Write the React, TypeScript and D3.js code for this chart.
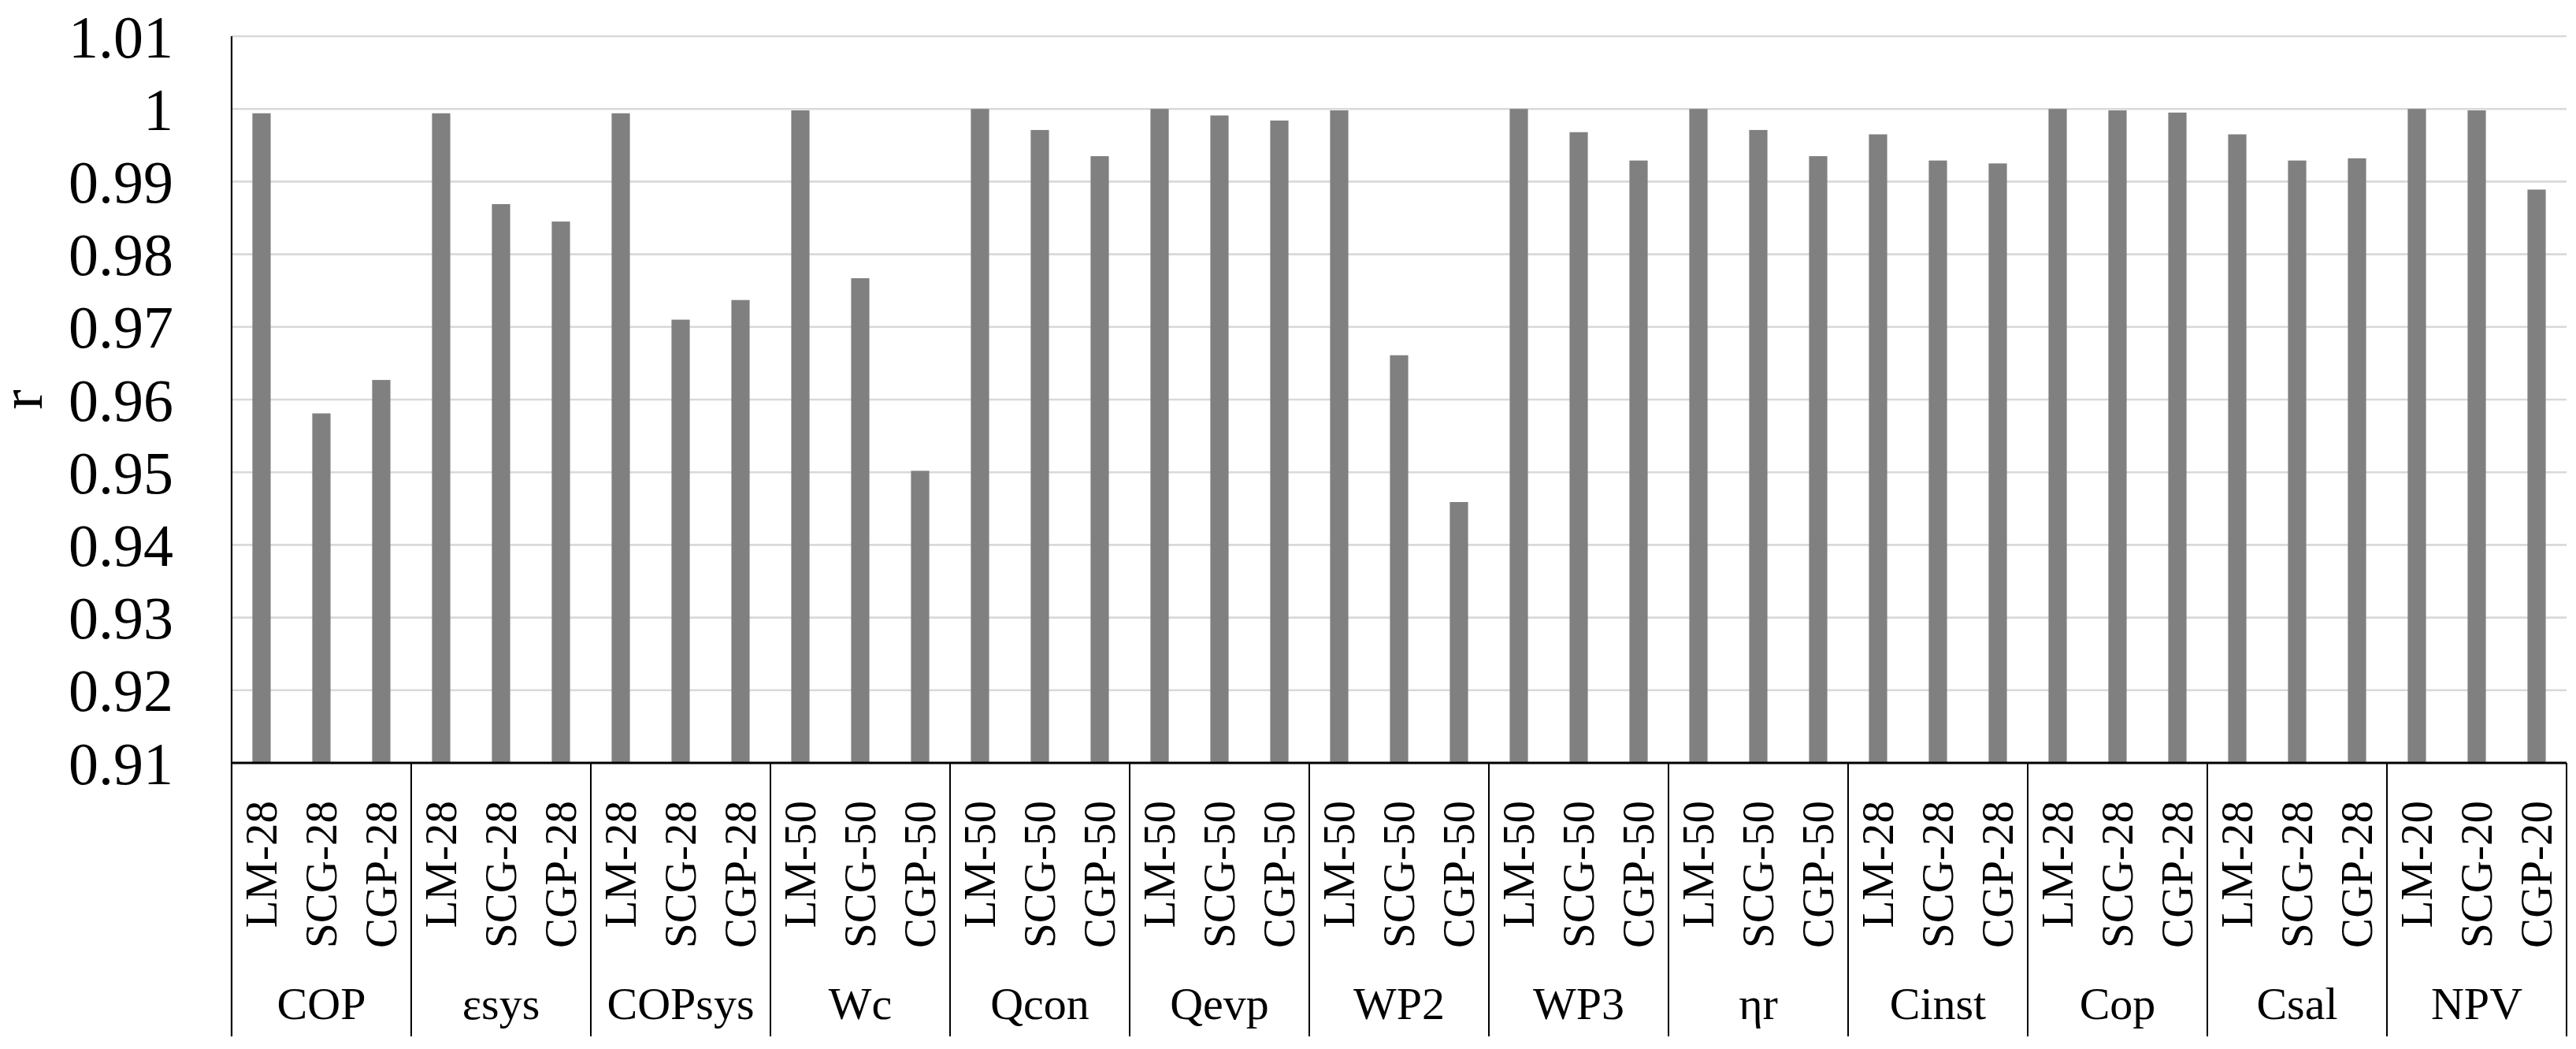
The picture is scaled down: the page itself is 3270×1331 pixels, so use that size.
import React from "react";
import * as d3 from "d3";

const categories = ["COP", "εsys", "COPsys", "Wc", "Qcon", "Qevp", "WP2", "WP3", "ηr", "Cinst", "Cop", "Csal", "NPV"];
const neurons = ["28", "28", "28", "50", "50", "50", "50", "50", "50", "28", "28", "28", "20"];
const methods = ["LM", "SCG", "CGP"];
const lmValues = [0.9994, 0.9994, 0.9994, 0.9998, 1.0, 1.0, 0.9998, 1.0, 1.0, 0.9965, 1.0, 0.9965, 1.0];
const scgValues = [0.9581, 0.9869, 0.971, 0.9767, 0.9971, 0.9991, 0.9661, 0.9968, 0.9971, 0.9929, 0.9998, 0.9929, 0.9998];
const cgpValues = [0.9627, 0.9845, 0.9737, 0.9502, 0.9935, 0.9984, 0.9459, 0.9929, 0.9935, 0.9925, 0.9995, 0.9932, 0.9889];
const yTicks = [0.91, 0.92, 0.93, 0.94, 0.95, 0.96, 0.97, 0.98, 0.99, 1.0, 1.01];
const yLabels = ["0.91", "0.92", "0.93", "0.94", "0.95", "0.96", "0.97", "0.98", "0.99", "1", "1.01"];
const yTitle = "r";

const W = 3270;
const H = 1331;
const left = 294;
const right = 3258;
const top = 46;
const bottom = 968;
const sepBottom = 1315;
const FONT = "'Liberation Serif', 'Times New Roman', serif";

export default function App() {
  const seriesByMethod = [lmValues, scgValues, cgpValues];
  const bars = categories.flatMap((c, ci) =>
    methods.map((m, mi) => ({
      key: `${ci}-${mi}`,
      label: `${m}-${neurons[ci]}`,
      value: seriesByMethod[mi][ci],
    }))
  );
  const x = d3
    .scaleBand<string>()
    .domain(bars.map((b) => b.key))
    .range([left, right])
    .paddingInner(0.695)
    .paddingOuter(0.3475);
  const y = d3.scaleLinear().domain([0.91, 1.01]).range([bottom, top]);
  const catX = d3.scaleBand<string>().domain(categories).range([left, right]);

  return (
    <svg
      width={W}
      height={H}
      style={{ position: "absolute", left: 0, top: 0, background: "#fff" }}
      fontFamily={FONT}
    >
      <rect x={0} y={0} width={W} height={H} fill="#fff" />
      {yTicks.map((t, i) => (
        <g key={t}>
          {i > 0 && (
            <line x1={left} x2={right} y1={y(t)} y2={y(t)} stroke="#d9d9d9" strokeWidth={2.6} />
          )}
          <text x={220} y={y(t)} dy="0.35em" textAnchor="end" fontSize={76} fill="#000">
            {yLabels[i]}
          </text>
        </g>
      ))}
      <text
        transform={`translate(34,${(top + bottom) / 2}) rotate(-90)`}
        textAnchor="middle"
        dy="0.25em"
        fontSize={76}
        fill="#000"
      >
        {yTitle}
      </text>
      {bars.map((b) => (
        <rect
          key={b.key}
          x={x(b.key)}
          y={y(b.value)}
          width={x.bandwidth()}
          height={bottom - y(b.value)}
          fill="#808080"
        />
      ))}
      <line x1={left} x2={left} y1={top} y2={sepBottom} stroke="#000" strokeWidth={2.2} />
      <line x1={left} x2={right} y1={bottom} y2={bottom} stroke="#000" strokeWidth={3.2} />
      {categories.map((c) => (
        <line
          key={c}
          x1={(catX(c) as number) + catX.bandwidth()}
          x2={(catX(c) as number) + catX.bandwidth()}
          y1={bottom}
          y2={sepBottom}
          stroke="#000"
          strokeWidth={2}
        />
      ))}
      {bars.map((b) => {
        const cx = (x(b.key) as number) + x.bandwidth() / 2;
        return (
          <text
            key={b.key}
            transform={`translate(${cx},1016) rotate(-90)`}
            textAnchor="end"
            dy="0.33em"
            fontSize={57}
            fill="#000"
          >
            {b.label}
          </text>
        );
      })}
      {categories.map((c) => (
        <text
          key={c}
          x={(catX(c) as number) + catX.bandwidth() / 2}
          y={1293}
          textAnchor="middle"
          fontSize={58}
          fill="#000"
        >
          {c}
        </text>
      ))}
    </svg>
  );
}
